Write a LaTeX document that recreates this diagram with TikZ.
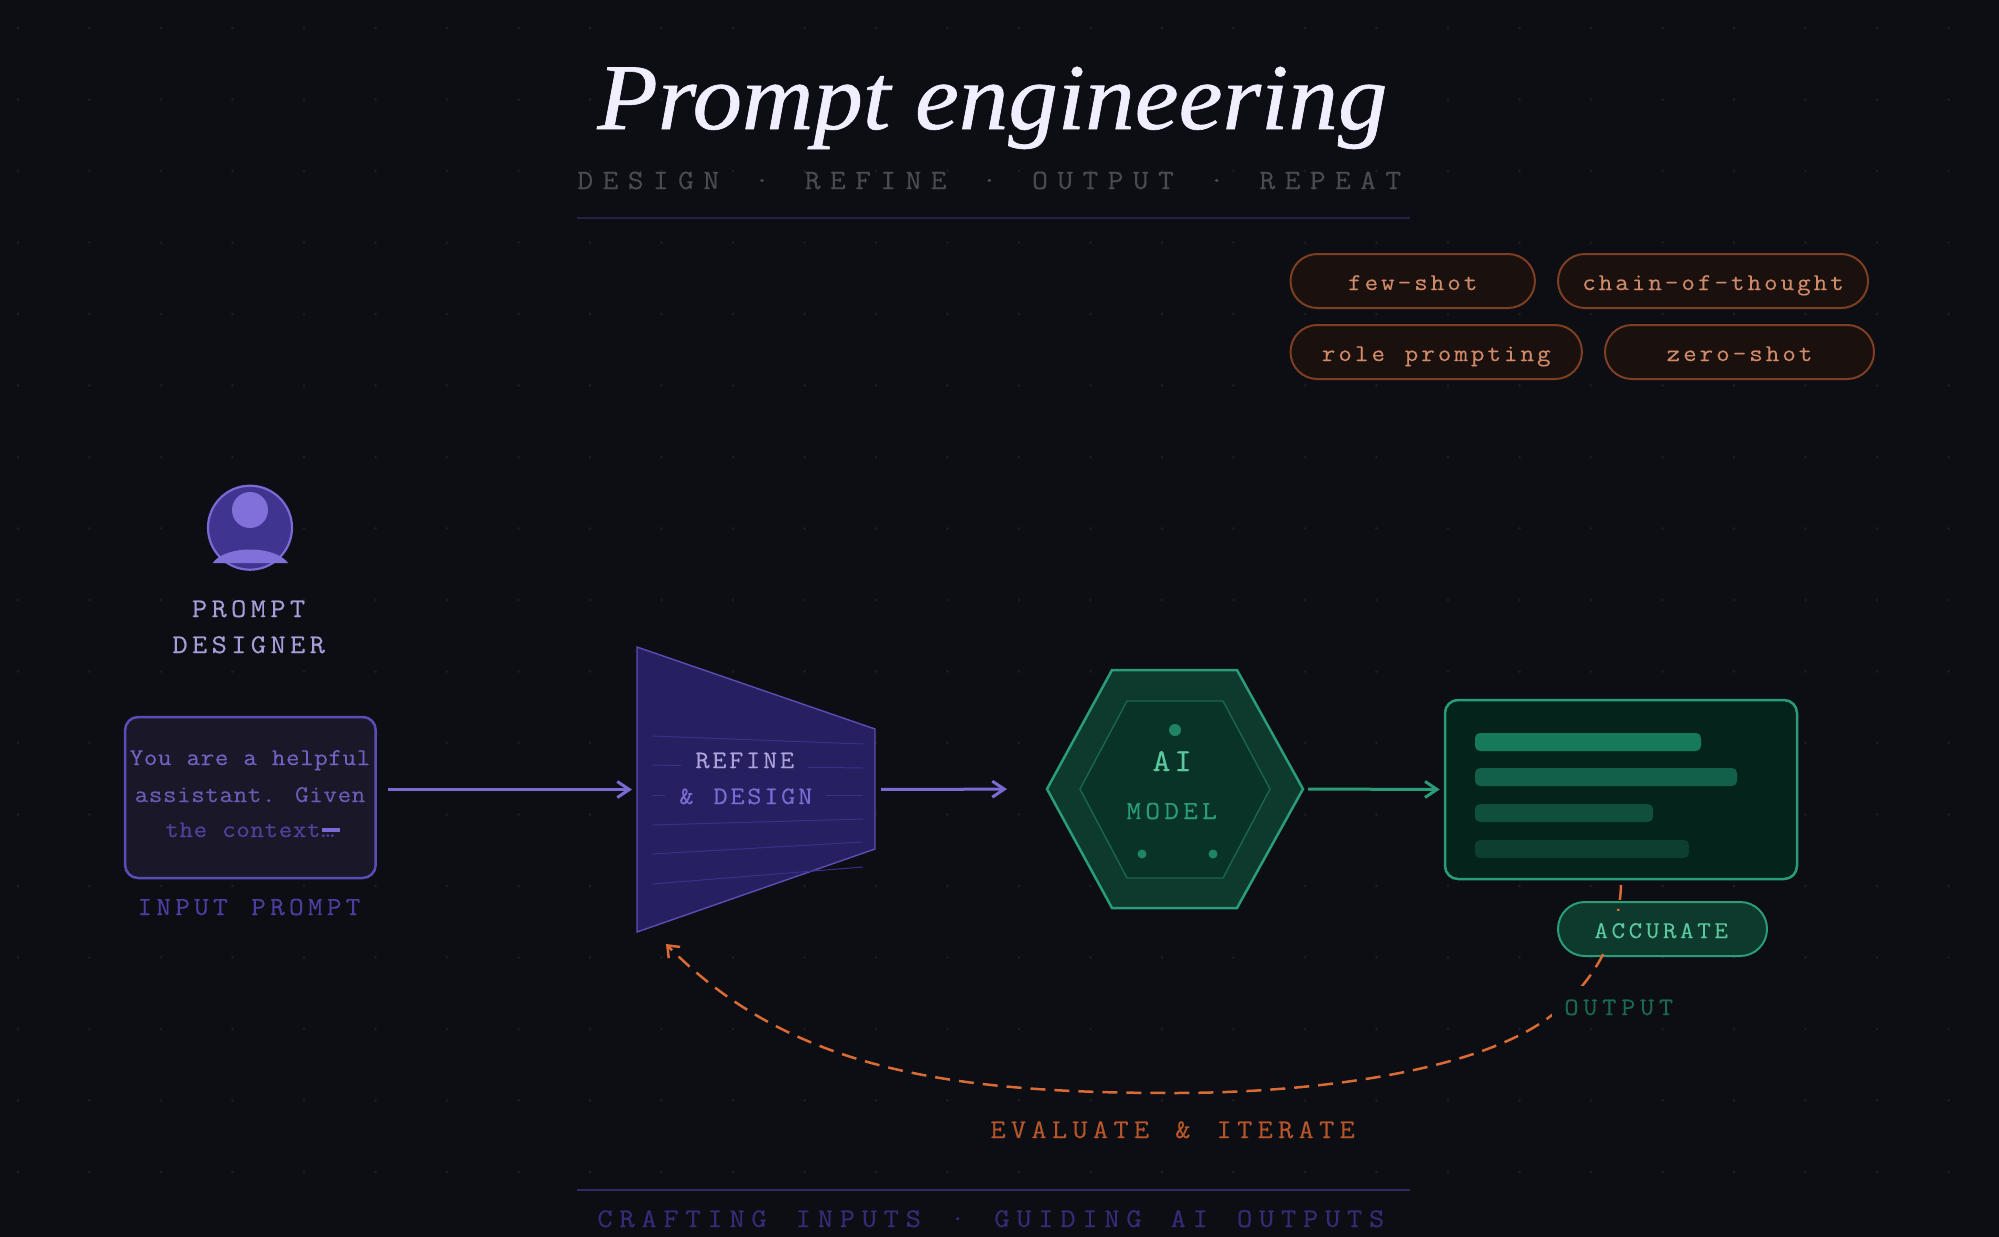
\documentclass[tikz,border=0pt]{standalone}
\usepackage{fontspec}
\usetikzlibrary{arrows.meta}
\setmainfont{Liberation Serif}
\newfontfamily\monof{Latin Modern Mono}[FakeBold=0.25,FakeStretch=1.1]
\newfontfamily\titlef{Liberation Serif Italic}[FakeStretch=1.052,FakeBold=0.7]
% size in pt, pitch in reference pixels
\newcommand\monotrk[2]{\monof\fontsize{#1pt}{#1pt}\selectfont
  \edef\monofeat{\noexpand\addfontfeature{LetterSpace=\fpeval{round(100*(#2/2/#1-0.5775),3)}}}\monofeat
  \spaceskip=\fpeval{round(#2-0.5775*#1,3)}pt\relax}
\definecolor{bgc}{HTML}{0D0D14}
\definecolor{dotc}{HTML}{1B1B22}
\definecolor{titlec}{HTML}{F0EEFF}
\definecolor{subc}{HTML}{4A4A50}
\definecolor{rulec}{HTML}{25204A}
\definecolor{purp}{HTML}{7A6BD4}
\definecolor{purpdeep}{HTML}{5B4DB8}
\definecolor{lav}{HTML}{A59DD8}
\definecolor{inbg}{HTML}{1A1728}
\definecolor{avbg}{HTML}{3F3590}
\definecolor{avlt}{HTML}{8070D8}
\definecolor{inlab}{HTML}{4A3FA0}
\definecolor{fun}{HTML}{262060}
\definecolor{funline}{HTML}{38308F}
\definecolor{grn}{HTML}{2A9D78}
\definecolor{grnlt}{HTML}{5CC8A0}
\definecolor{hexa}{HTML}{0D3A2C}
\definecolor{hexb}{HTML}{0A3327}
\definecolor{hexl}{HTML}{1A6550}
\definecolor{hexd}{HTML}{1F8463}
\definecolor{outbg}{HTML}{04231A}
\definecolor{barone}{HTML}{167A5A}
\definecolor{bartwo}{HTML}{126049}
\definecolor{barthree}{HTML}{0F4F3C}
\definecolor{barfour}{HTML}{0C3F30}
\definecolor{outlab}{HTML}{1A6A50}
\definecolor{org}{HTML}{D96B35}
\definecolor{orgtxt}{HTML}{B5552A}
\definecolor{pilltxt}{HTML}{D08A68}
\definecolor{pillline}{HTML}{7E3E22}
\definecolor{pillbg}{HTML}{1A100E}
\definecolor{footc}{HTML}{352C78}
\tikzset{
  tlabel/.style={anchor=base west,inner sep=0pt},
  pillnode/.style={draw=pillline,fill=pillbg,line width=1pt,rounded corners=13.4pt,inner sep=0pt,
    minimum height=27pt,text=pilltxt,text height=11pt,text depth=2pt,font=\monotrk{12}{16.8}},
  flow/.style={line width=1.5pt,-{Straight Barb[length=6pt,width=8pt]}},
  barshape/.style={rounded corners=2.5pt},
  ghost/.style={inner sep=0pt,outer sep=0pt},
}
\begin{document}
\begin{tikzpicture}[x=0.5pt,y=-0.5pt]
\fill[bgc] (0,0) rectangle (1999,1237);
\useasboundingbox (0,0) rectangle (1999,1237);
% background dots
\foreach \i in {0,...,27}{\foreach \j in {0,...,16}{
  \fill[dotc] ({18+71.5*\i},{28+71.5*\j}) circle (1.7);}}
% header
\node[tlabel,text=titlec,font=\titlef\fontsize{47}{47}\selectfont] (title) at (597,129) {Prompt engineering};
\node[tlabel,text=subc,font=\monotrk{14}{25.5}] (subtitle) at (577,189) {DESIGN · REFINE · OUTPUT · REPEAT};
\coordinate (ruleAl) at (577,218); \coordinate (ruleAr) at (1410,218);
\draw[rulec,line width=.8pt] (ruleAl) -- (ruleAr);
% pills
\node[pillnode,minimum width=122.2pt] (pa) at (1412.7,281) {few-shot};
\node[pillnode,minimum width=155pt] (pb) at (1713,281) {chain-of-thought};
\node[pillnode,minimum width=145.7pt] (pc) at (1436.2,352) {role prompting};
\node[pillnode,minimum width=134.5pt] (pd) at (1739.5,352) {zero-shot};
% avatar
\node[circle,draw=purp,fill=avbg,line width=1.1pt,minimum size=42pt,inner sep=0pt] (avatar) at (250,527.7) {};
\fill[avlt] (250,510) circle (18);
\fill[avlt] (212.7,563) .. controls (225,545) and (275,545) .. (288,563) -- cycle;
\node[tlabel,text=lav,font=\monotrk{13.5}{19.9}] (pname) at (191.5,617) {PROMPT};
\node[tlabel,text=lav,font=\monotrk{13.5}{19.9}] (dname) at (172,653) {DESIGNER};
% input box
\node[draw=purpdeep,fill=inbg,line width=1.25pt,rounded corners=6.5pt,minimum width=125.3pt,minimum height=80.5pt,inner sep=0pt] (inputbox) at (250.4,797.5) {};
\node[tlabel,anchor=base,text=purp!92!black,font=\monotrk{12}{14.4}] (ia) at (250,765) {You are a helpful};
\node[tlabel,anchor=base,text=purp!85!black,font=\monotrk{12}{14.4}] (ib) at (250,802) {assistant. Given};
\node[tlabel,anchor=base,text=purpdeep!85!black,font=\monotrk{12}{14.4}] (ic) at (250,837) {the context…};
\fill[purp] (321.7,828) rectangle (340,832);
\node[tlabel,text=inlab,font=\monotrk{13}{19.2}] (ilab) at (137,915) {INPUT PROMPT};
% funnel
\node[ghost,minimum width=119pt,minimum height=142.5pt] (funnel) at (756,789.5) {};
\draw[fill=fun,draw=purpdeep,line width=.7pt] (637,647) -- (875,729) -- (875,849) -- (637,932) -- cycle;
\foreach \ya/\yb in {736/744,765/768,795/795,825/819,854/842,884/867}{
  \draw[funline,line width=.5pt] (652,\ya) -- (863,\yb);}
\node[tlabel,fill=fun,inner xsep=7pt,inner ysep=0pt,text height=8pt,text depth=2pt,text=lav!95!white,font=\monotrk{12.5}{17.2}] (ra) at (681,768) {REFINE};
\node[tlabel,fill=fun,inner xsep=7pt,inner ysep=0pt,text height=8pt,text depth=2pt,text=purp,font=\monotrk{12.5}{17.2}] (rb) at (665,804) {\& DESIGN};
% hexagon
\node[ghost,minimum width=128pt,minimum height=119pt] (hexnode) at (1175,789) {};
\draw[fill=hexa,draw=grn,line width=1.25pt] (1047,789) -- (1112,670) -- (1237,670) -- (1303,789) -- (1237,908) -- (1112,908) -- cycle;
\draw[fill=hexb,draw=hexl,line width=.7pt] (1080,789) -- (1127,701) -- (1223,701) -- (1270,789) -- (1223,878) -- (1127,878) -- cycle;
\fill[hexd] (1175,730) circle (6);
\fill[hexd] (1142,854) circle (4.5);
\fill[hexd] (1213,854) circle (4.5);
\node[tlabel,text=grnlt,font=\monotrk{16}{22}] (ai) at (1152,771) {AI};
\node[tlabel,text=grn,font=\monotrk{13}{19.2}] (model) at (1126,819) {MODEL};
% output box
\node[draw=grn,fill=outbg,line width=1.25pt,rounded corners=6.5pt,minimum width=176pt,minimum height=89.5pt,inner sep=0pt] (outbox) at (1621,789.5) {};
\fill[barone,barshape] (1475,733) rectangle (1701,751);
\fill[bartwo,barshape] (1475,768) rectangle (1737,786);
\fill[barthree,barshape] (1475,804) rectangle (1653,822);
\fill[barfour,barshape] (1475,840) rectangle (1689,858);
% accurate pill
\node[draw=grn,fill=hexa,line width=1pt,rounded corners=13.4pt,minimum width=104.5pt,minimum height=27pt,inner sep=0pt] (accpill) at (1662.5,929) {};
% connectors
\draw[flow,purp,shorten <=5.5pt,shorten >=2.5pt] (inputbox.east |- funnel.west) -- (funnel.west);
\draw[flow,purp,shorten <=3pt,shorten >=20pt] (funnel.east) -- (hexnode.west);
\draw[flow,grn,shorten <=2.5pt,shorten >=2pt] (hexnode.east) -- (outbox.west);
\coordinate (loopend) at (666,944);
\coordinate (loopstart) at (1621,885);
\draw[org,line width=1.25pt,dash pattern=on 7.5pt off 4.5pt,-{Straight Barb[length=5pt,width=8pt]}]
  (loopstart) .. controls (1619,950) and (1580,994) .. (1550.7,1016)
  .. controls (1480,1070) and (1320,1093) .. (1173,1093)
  .. controls (950,1093) and (790,1070) .. (loopend);
\node[tlabel,fill=hexa,inner xsep=7pt,inner ysep=0pt,text height=13.5pt,text depth=7.5pt,text=grnlt,font=\monotrk{12}{17.4}] (acc) at (1580,938) {ACCURATE};
\node[tlabel,fill=bgc,inner xsep=6pt,inner ysep=0pt,text height=14.5pt,text depth=1pt,text=outlab,font=\monotrk{12.5}{19.2}] (olab) at (1552,1015) {OUTPUT};
\node[tlabel,text=orgtxt,font=\monotrk{13.5}{20.8}] (evlab) at (990,1138) {EVALUATE \& ITERATE};
% footer
\coordinate (ruleBl) at (577,1190); \coordinate (ruleBr) at (1410,1190);
\draw[rulec!85!purp,line width=.8pt] (ruleBl) -- (ruleBr);
\node[tlabel,text=footc,font=\monotrk{13.5}{22.3}] (foot) at (597,1227) {CRAFTING INPUTS · GUIDING AI OUTPUTS};
\end{tikzpicture}
\end{document}
